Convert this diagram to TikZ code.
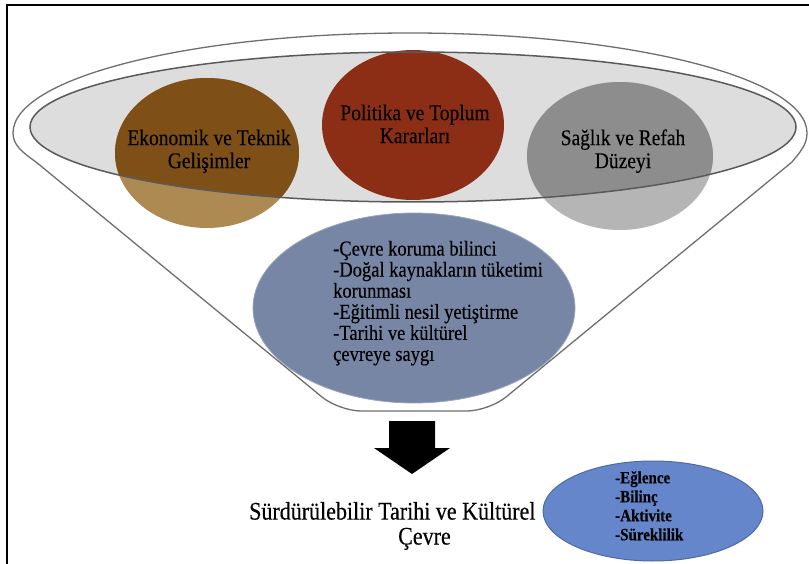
\documentclass[tikz,border=0pt]{standalone}
\usepackage{graphicx}
\usepackage{fontspec}
\setmainfont{Liberation Serif}[FakeBold=0.3]
\definecolor{funnelline}{HTML}{6E6E6E}
\definecolor{ellfill}{HTML}{DDDDDD}
\definecolor{ellline}{HTML}{5A5A5A}
\definecolor{brownlight}{HTML}{AD8A52}
\definecolor{browndark}{HTML}{7E5018}
\definecolor{redc}{HTML}{8C2D15}
\definecolor{greylight}{HTML}{B5B5B5}
\definecolor{greydark}{HTML}{8D8D8D}
\definecolor{midblue}{HTML}{7886A6}
\definecolor{midblueline}{HTML}{9AA5C0}
\definecolor{smallblue}{HTML}{6586CB}
\definecolor{smallblueline}{HTML}{4F6A9E}
\newcommand{\vstr}[2]{\scalebox{1}[1.15]{\begin{tabular}{@{}#1@{}}#2\end{tabular}}}
\tikzset{
  funnel/.style={draw=funnelline, line width=1.3pt},
  circtext/.style={inner sep=0pt, font=\fontsize{19.5}{20}\selectfont},
  midtext/.style={inner sep=0pt, anchor=west, font=\fontsize{18.5}{18.3}\selectfont},
  smalltext/.style={inner sep=0pt, anchor=west, font=\bfseries\fontsize{15}{16.5}\selectfont},
  bigtext/.style={inner sep=0pt, anchor=west, font=\fontsize{22}{21.7}\selectfont},
}
\begin{document}
\begin{tikzpicture}[x=1pt, y=-1pt]
\useasboundingbox (0,0) rectangle (809,564);
% frame (top and left edges)
\draw[line width=2pt, black] (809,5) -- (7,5) -- (7,564);
% funnel outline
\draw[funnel, line join=round]
  (36,162) .. controls (22,152) and (13,145) .. (13,133)
  arc[start angle=180, end angle=360, x radius=397, y radius=100]
  .. controls (807,145) and (800,152) .. (792,162);
\draw[funnel, rounded corners=22, line join=round]
  (36,162) -- (339,411) -- (489,411) -- (792,162);
% inner grey ellipse
\coordinate (ellc) at (413,127);
\fill[ellfill] (ellc) ellipse [x radius=383, y radius=75];
% circles, light parts
\fill[brownlight] (207,153) ellipse [x radius=92, y radius=75];
\fill[greylight] (620,156) ellipse [x radius=93, y radius=74];
% dark parts inside the grey ellipse
\begin{scope}
  \clip (ellc) ellipse [x radius=383, y radius=75];
  \fill[browndark] (207,153) ellipse [x radius=92, y radius=75];
  \fill[greydark] (620,156) ellipse [x radius=93, y radius=74];
\end{scope}
\fill[redc] (413,125) ellipse [x radius=91, y radius=75];
\draw[ellline, line width=1.5pt] (ellc) ellipse [x radius=383, y radius=75];
% middle blue ellipse
\filldraw[fill=midblue, draw=midblueline, line width=0.8pt] (414,308) ellipse [x radius=161, y radius=95];
% texts
\node[circtext] (eko) at (209,152) {\vstr{c}{Ekonomik ve Teknik\\Gelişimler}};
\node[circtext] (pol) at (415,127) {\vstr{c}{Politika ve Toplum\\Kararları}};
\node[circtext] (sag) at (623,152) {\vstr{c}{Sağlık ve Refah\\Düzeyi}};
\node[midtext] (mid) at (333,304) {\vstr{l}{-Çevre koruma bilinci\\-Doğal kaynakların tüketimi\\korunması\\-Eğitimli nesil yetiştirme\\-Tarihi ve kültürel\\çevreye saygı}};
% block arrow
\coordinate (atop) at (412,421);
\fill[black] (389,421) -- (435,421) -- (435,448) -- (450,448) -- (412,474) -- (374,448) -- (389,448) -- cycle;
% result text
\node[bigtext] (sur) at (249,527) {\vstr{l}{Sürdürülebilir Tarihi ve Kültürel\\\hspace*{149pt}Çevre}};
% small blue ellipse
\filldraw[fill=smallblue, draw=smallblueline, line width=1pt] (653,511) ellipse [x radius=110, y radius=50];
\node[smalltext] (sml) at (615,508) {\vstr{l}{-Eğlence\\-Bilinç\\-Aktivite\\-Süreklilik}};
\end{tikzpicture}
\end{document}
